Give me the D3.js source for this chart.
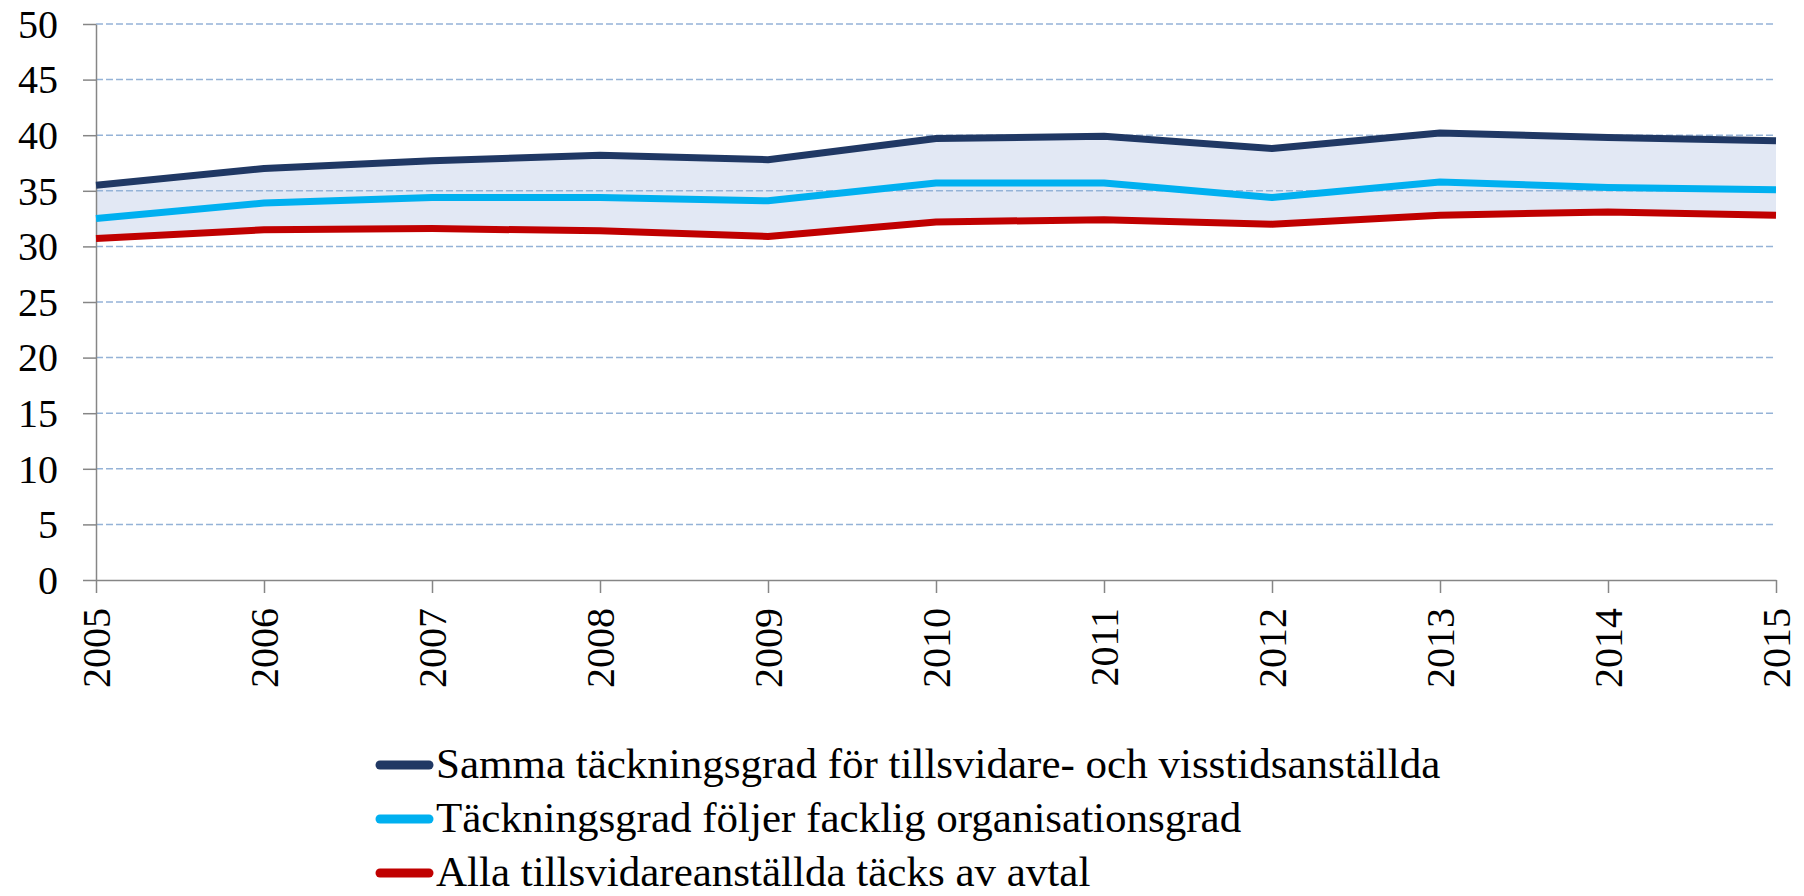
<!DOCTYPE html>
<html>
<head>
<meta charset="utf-8">
<script src="https://cdn.jsdelivr.net/npm/d3@7"></script>
<style>
  html, body { margin: 0; padding: 0; background: #fff; }
  svg { display: block; }
  svg text { font-family: "Liberation Serif", "Times New Roman", serif !important; fill: #000; }
</style>
</head>
<body>
<svg id="chart" width="1804" height="896"></svg>
<script>
const years = [2005, 2006, 2007, 2008, 2009, 2010, 2011, 2012, 2013, 2014, 2015];
const samma = [35.5, 37.0, 37.7, 38.2, 37.8, 39.7, 39.9, 38.8, 40.2, 39.8, 39.5];
const facklig = [32.5, 33.9, 34.4, 34.4, 34.1, 35.7, 35.7, 34.4, 35.8, 35.3, 35.1];
const alla = [30.7, 31.5, 31.6, 31.4, 30.9, 32.2, 32.4, 32.0, 32.8, 33.1, 32.8];
const yTicks = [0, 5, 10, 15, 20, 25, 30, 35, 40, 45, 50];
const seriesNames = [
  "Samma täckningsgrad för tillsvidare- och visstidsanställda",
  "Täckningsgrad följer facklig organisationsgrad",
  "Alla tillsvidareanställda täcks av avtal"
];
const seriesColors = ["#203864", "#00B0F0", "#C00000"];

(function () {
const svg = d3.select("#chart");
const mL = 96, mR = 1776, mT = 24, mB = 580;
const serif = "Liberation Serif, Times New Roman, serif";

const x = d3.scaleLinear().domain([2005, 2015]).range([mL, mR]);
const y = d3.scaleLinear().domain([0, 50]).range([mB, mT]);

const series = [samma, facklig, alla];

// area between top and bottom series
const area = d3.area()
  .x((d, i) => x(years[i]))
  .y0((d, i) => y(alla[i]))
  .y1((d, i) => y(samma[i]));
svg.append("path").datum(samma).attr("d", area).attr("fill", "#E2E8F4");

// gridlines
svg.append("g").selectAll("line").data(yTicks.filter(t => t > 0)).join("line")
  .attr("x1", mL).attr("x2", mR)
  .attr("y1", d => y(d)).attr("y2", d => y(d))
  .attr("stroke", "#95B3D7").attr("stroke-width", 1.5)
  .attr("stroke-dasharray", "7,3");

// y axis
const yAxis = d3.axisLeft(y).tickValues(yTicks).tickSize(13).tickPadding(0).tickSizeOuter(0);
const gy = svg.append("g").attr("transform", `translate(${mL},0)`).call(yAxis)
  .attr("font-family", serif).attr("font-size", 40);
gy.select(".domain").attr("stroke", "#868686").attr("stroke-width", 1.5);
gy.selectAll(".tick line").attr("stroke", "#868686").attr("stroke-width", 1.5);
gy.selectAll(".tick text")
  .attr("x", -38).attr("dy", "0.33em").attr("fill", "#000");

// x axis
const xAxis = d3.axisBottom(x).tickValues(years).tickFormat(d3.format("d")).tickSize(13).tickSizeOuter(0);
const gx = svg.append("g").attr("transform", `translate(0,${mB})`).call(xAxis)
  .attr("font-family", serif).attr("font-size", 40);
gx.select(".domain").attr("stroke", "#868686").attr("stroke-width", 1.5);
gx.selectAll(".tick line").attr("stroke", "#868686").attr("stroke-width", 1.5);
gx.selectAll(".tick text")
  .attr("transform", "rotate(-90)")
  .attr("x", -28).attr("y", 0).attr("dy", "0.34em")
  .attr("text-anchor", "end").attr("fill", "#000");

// lines
const line = d3.line().x((d, i) => x(years[i])).y(d => y(d));
series.forEach((s, k) => {
  svg.append("path").datum(s).attr("d", line)
    .attr("fill", "none").attr("stroke", seriesColors[k])
    .attr("stroke-width", 7).attr("stroke-linejoin", "round");
});

// legend
const legend = svg.append("g").attr("font-family", serif).attr("font-size", 43);
const rowY = [765, 819, 873];
seriesNames.forEach((name, k) => {
  legend.append("line")
    .attr("x1", 380).attr("x2", 429)
    .attr("y1", rowY[k]).attr("y2", rowY[k])
    .attr("stroke", seriesColors[k]).attr("stroke-width", 9).attr("stroke-linecap", "round");
  legend.append("text")
    .attr("x", 436).attr("y", rowY[k] + 13)
    .text(name);
});
})();
</script>
</body>
</html>
